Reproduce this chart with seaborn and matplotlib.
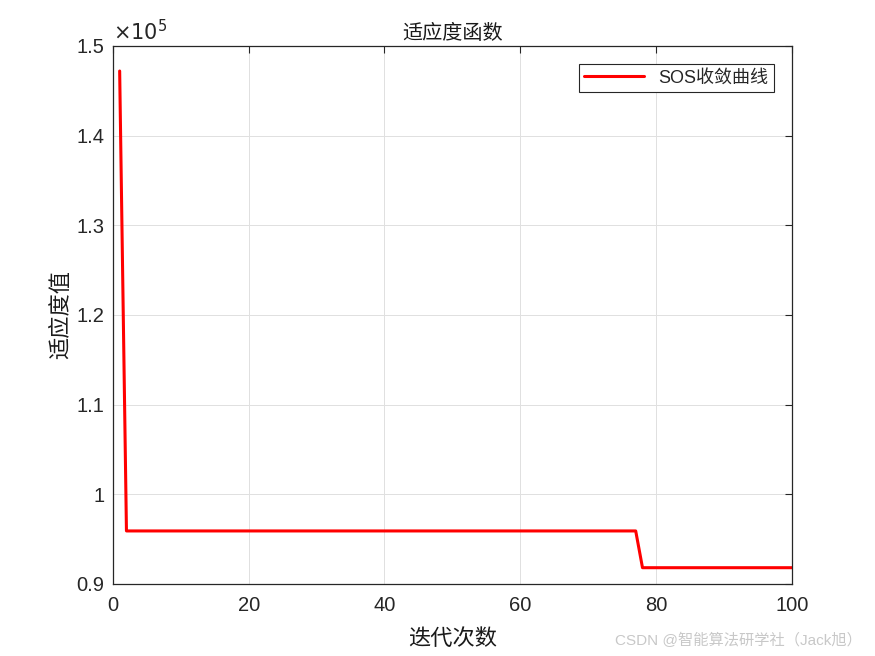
import numpy as np
import pandas as pd
import matplotlib
matplotlib.use('Agg')
import matplotlib.pyplot as plt
import seaborn as sns
from matplotlib.ticker import FuncFormatter

# convergence curve (fitness per iteration)
iterations = list(range(1, 101))
fitness = [147200] + [95900] * 76 + [91800] * 23
y_ticks = [90000, 100000, 110000, 120000, 130000, 140000, 150000]
x_ticks = [0, 20, 40, 60, 80, 100]

data = pd.DataFrame({'iter': iterations, 'fit': fitness})

sns.set_style('whitegrid')
plt.rcParams['font.family'] = ['Liberation Sans', 'Noto Sans CJK SC', 'DejaVu Sans']

fig = plt.figure(figsize=(8.75, 6.56), dpi=100)
ax = fig.add_axes([0.129, 0.110, 0.776, 0.820])

sns.lineplot(data=data, x='iter', y='fit', color='#ff0000', linewidth=2.2,
             label='SOS收敛曲线', ax=ax)

ax.set_xlim(0, 100)
ax.set_ylim(90000, 150000)
ax.set_xticks(x_ticks)
ax.set_yticks(y_ticks)
ax.yaxis.set_major_formatter(FuncFormatter(lambda v, p: '%g' % (v / 1e5)))
ax.tick_params(direction='in', length=5, width=0.8, colors='#262626',
               labelsize=14.5, top=True, right=True)
ax.tick_params(axis='x', pad=9)
ax.tick_params(axis='y', pad=6)
for s in ax.spines.values():
    s.set_visible(True)
    s.set_color('#262626')
    s.set_linewidth(0.9)
ax.grid(True, color='#e0e0e0', linewidth=0.7)

ax.text(0.0, 1.003, r'$\times10^{5}$', transform=ax.transAxes, fontsize=15,
        color='#262626', ha='left', va='bottom')
ax.set_title('适应度函数', fontsize=14.5, color='#1a1a1a', pad=5)
ax.set_xlabel('迭代次数', fontsize=16, color='#1a1a1a', labelpad=10)
ax.set_ylabel('适应度值', fontsize=16, color='#1a1a1a', labelpad=3)

leg = ax.legend(loc='upper right', fontsize=13, frameon=True, fancybox=False,
                borderaxespad=1.0, handlelength=3.3, borderpad=0.3)
leg.get_frame().set_edgecolor('#262626')
leg.get_frame().set_linewidth(0.8)
leg.get_frame().set_alpha(1)

fig.text(0.985, 0.012, 'CSDN @智能算法研学社（Jack旭）', fontsize=11,
         color='#c8c8c8', ha='right', va='bottom')

fig.savefig('out.png', dpi=100, facecolor='white')
